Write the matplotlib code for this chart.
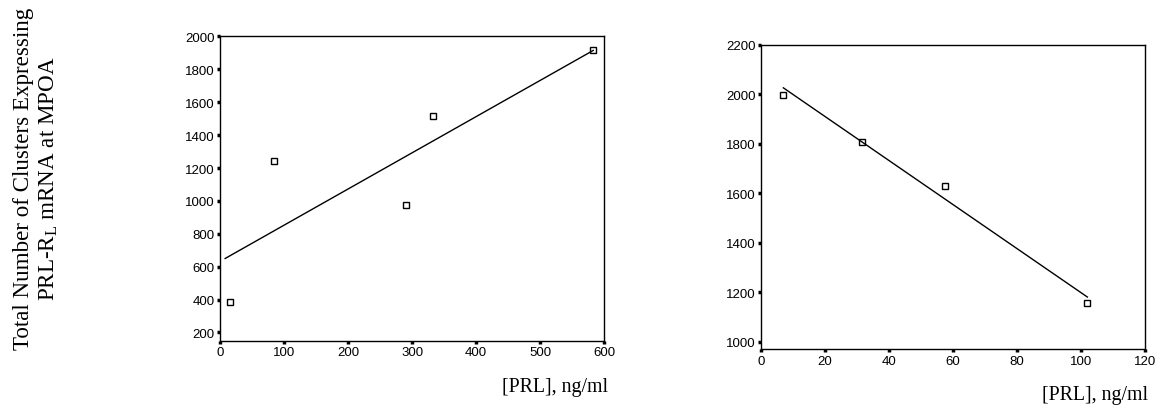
import matplotlib
matplotlib.use('Agg')
import matplotlib.pyplot as plt

# left panel: PRL vs clusters
prlA = [15, 85, 290, 332, 583]
clustersA = [385, 1245, 975, 1515, 1920]
fitA_x = [8, 583]
fitA_y = [650, 1915]

# right panel
prlB = [7, 31.5, 57.5, 102]
clustersB = [1995, 1805, 1630, 1155]
fitB_x = [7, 102]
fitB_y = [2025, 1180]

ticksA_x = [0, 100, 200, 300, 400, 500, 600]
ticksA_y = [200, 400, 600, 800, 1000, 1200, 1400, 1600, 1800, 2000]
ticksB_x = [0, 20, 40, 60, 80, 100, 120]
ticksB_y = [1000, 1200, 1400, 1600, 1800, 2000, 2200]

plt.rcParams['font.family'] = 'Liberation Sans'
plt.rcParams['mathtext.fontset'] = 'custom'
plt.rcParams['mathtext.rm'] = 'Liberation Serif'

fig = plt.figure(figsize=(11.63, 4.10), dpi=100)
ax1 = fig.add_axes([0.1892, 0.1666, 0.3302, 0.742])
ax2 = fig.add_axes([0.6543, 0.1463, 0.3302, 0.7427])

def styleAxis(ax, xt, yt, xlim, ylim):
    ax.set_xlim(xlim)
    ax.set_ylim(ylim)
    ax.set_xticks(xt)
    ax.set_yticks(yt)
    ax.tick_params(direction='out', length=2.5, width=2.5, labelsize=9.5, pad=1.5, color='black')
    for s in ax.spines.values():
        s.set_linewidth(1.0)

ax1.plot(prlA, clustersA, 's', mfc='white', mec='black', ms=5, mew=1)
ax1.plot(fitA_x, fitA_y, 'k-', lw=1)
styleAxis(ax1, ticksA_x, ticksA_y, (0, 600), (150, 2000))

ax2.plot(prlB, clustersB, 's', mfc='white', mec='black', ms=5, mew=1)
ax2.plot(fitB_x, fitB_y, 'k-', lw=1)
styleAxis(ax2, ticksB_x, ticksB_y, (0, 120), (970, 2200))

fig.text(0.523, 0.054, '[PRL], ng/ml', ha='right', va='center', family='Liberation Serif', fontsize=14.3)
fig.text(0.987, 0.036, '[PRL], ng/ml', ha='right', va='center', family='Liberation Serif', fontsize=14.3)

fig.text(0.0315, 0.563, 'Total Number of Clusters Expressing\nPRL-R$_\\mathregular{L}$ mRNA at MPOA',
         rotation=90, ha='center', va='center', multialignment='center',
         family='Liberation Serif', fontsize=16.6, linespacing=1.2)

plt.savefig('out.png', dpi=100)
